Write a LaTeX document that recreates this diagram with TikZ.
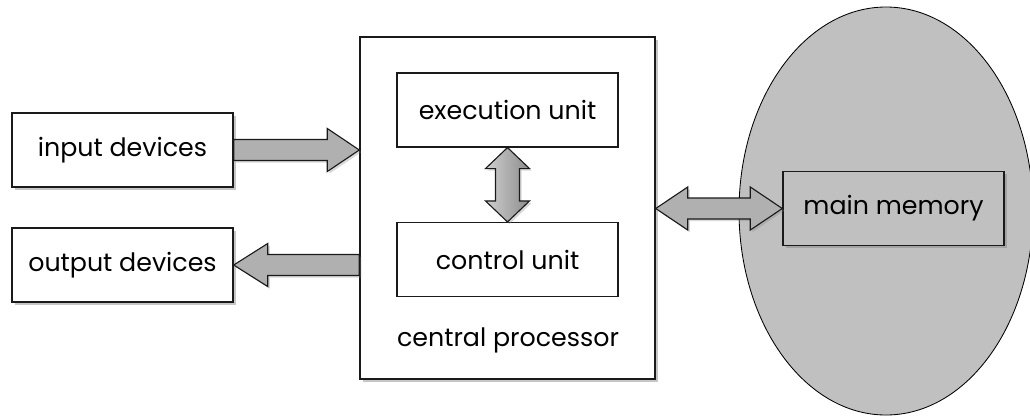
\documentclass[tikz,border=0pt]{standalone}
\usepackage{fontspec}
\setmainfont{Poppins}
\usepackage{tikz}
\usetikzlibrary{calc, shadows, shapes.geometric}
\usepackage{xcolor}
\definecolor{boxLine}{HTML}{1A1A1A}
\definecolor{memoryGray}{HTML}{C0C0C0}
\definecolor{arrowGray}{HTML}{B0B0B0}
\definecolor{arrowDark}{HTML}{8C8C8C}
\tikzset{
    LabelText/.style={font=\fontsize{18}{22}\selectfont},
    BoxShadow/.style={drop shadow={shadow xshift=2pt, shadow yshift=-2pt, opacity=0.45}},
    DeviceBox/.style={draw=boxLine, line width=1pt, fill=white, BoxShadow, LabelText,
        minimum width=221*0.025cm, minimum height=74*0.025cm},
    UnitBox/.style={draw=boxLine, line width=0.8pt, fill=white, LabelText,
        minimum width=221*0.025cm, minimum height=74*0.025cm},
    CpuBox/.style={draw=boxLine, line width=1pt, fill=white, BoxShadow,
        minimum width=295*0.025cm, minimum height=342*0.025cm},
    MemoryArea/.style={ellipse, draw=black, line width=0.6pt, fill=memoryGray,
        minimum width=294*0.025cm, minimum height=408*0.025cm},
    MemoryBox/.style={DeviceBox, fill=memoryGray},
    BlockArrow/.style={draw=boxLine, line width=0.8pt, fill=arrowGray, line join=miter,
        drop shadow={shadow xshift=1.5pt, shadow yshift=-1.5pt, opacity=0.3}},
    VBlockArrow/.style={BlockArrow, left color=arrowGray!60, right color=arrowDark}
}

\begin{document}
\begin{tikzpicture}[x=0.025cm, y=-0.025cm]
    % 1 unit = 1 pixel of the 1030 x 416 canvas
    \useasboundingbox (0,0) rectangle (1030,416);
    \def\shaftHalf{10.5}
    \def\headHalf{21.5}
    \def\headLen{32}

    % --- memory area behind everything ---
    \node[MemoryArea] (memArea) at (886,211) {};

    % --- device boxes ---
    \node[DeviceBox] (inputDev) at (122.5,150) {input devices};
    \node[DeviceBox] (outputDev) at (122.5,265) {output devices};

    % --- central processor ---
    \node[CpuBox] (cpu) at (507.5,208) {};
    \node[UnitBox] (execUnit) at (507.5,110) {execution unit};
    \node[UnitBox] (ctrlUnit) at (507.5,259.5) {control unit};
    \node[LabelText] (cpuLabel) at (508,340) {central processor};

    % --- main memory ---
    \node[MemoryBox] (memBox) at (893.5,208.5) {main memory};

    % input devices -> processor
    \coordinate (inTip) at (cpu.west |- inputDev.east);
    \draw[BlockArrow] ($(inputDev.east)+(0,-\shaftHalf)$) -- ($(inTip)+(-\headLen,-\shaftHalf)$)
        -- ($(inTip)+(-\headLen,-\headHalf)$) -- (inTip) -- ($(inTip)+(-\headLen,\headHalf)$)
        -- ($(inTip)+(-\headLen,\shaftHalf)$) -- ($(inputDev.east)+(0,\shaftHalf)$) -- cycle;

    % processor -> output devices
    \coordinate (outTail) at (cpu.west |- outputDev.east);
    \draw[BlockArrow] ($(outTail)+(0,-\shaftHalf)$) -- ($(outputDev.east)+(\headLen+2,-\shaftHalf)$)
        -- ($(outputDev.east)+(\headLen+2,-\headHalf)$) -- (outputDev.east)
        -- ($(outputDev.east)+(\headLen+2,\headHalf)$) -- ($(outputDev.east)+(\headLen+2,\shaftHalf)$)
        -- ($(outTail)+(0,\shaftHalf)$) -- cycle;

    % processor <-> main memory
    \coordinate (memTail) at (cpu.east |- memBox.west);
    \draw[BlockArrow] (memTail) -- ($(memTail)+(\headLen,-\headHalf)$) -- ($(memTail)+(\headLen,-\shaftHalf)$)
        -- ($(memBox.west)+(-\headLen,-\shaftHalf)$) -- ($(memBox.west)+(-\headLen,-\headHalf)$)
        -- (memBox.west) -- ($(memBox.west)+(-\headLen,\headHalf)$) -- ($(memBox.west)+(-\headLen,\shaftHalf)$)
        -- ($(memTail)+(\headLen,\shaftHalf)$) -- ($(memTail)+(\headLen,\headHalf)$) -- cycle;

    % execution unit <-> control unit
    \draw[VBlockArrow] (execUnit.south) -- ($(execUnit.south)+(22,21)$) -- ($(execUnit.south)+(12,21)$)
        -- ($(ctrlUnit.north)+(12,-21)$) -- ($(ctrlUnit.north)+(22,-21)$) -- (ctrlUnit.north)
        -- ($(ctrlUnit.north)+(-22,-21)$) -- ($(ctrlUnit.north)+(-12,-21)$)
        -- ($(execUnit.south)+(-12,21)$) -- ($(execUnit.south)+(-22,21)$) -- cycle;
\end{tikzpicture}
\end{document}
